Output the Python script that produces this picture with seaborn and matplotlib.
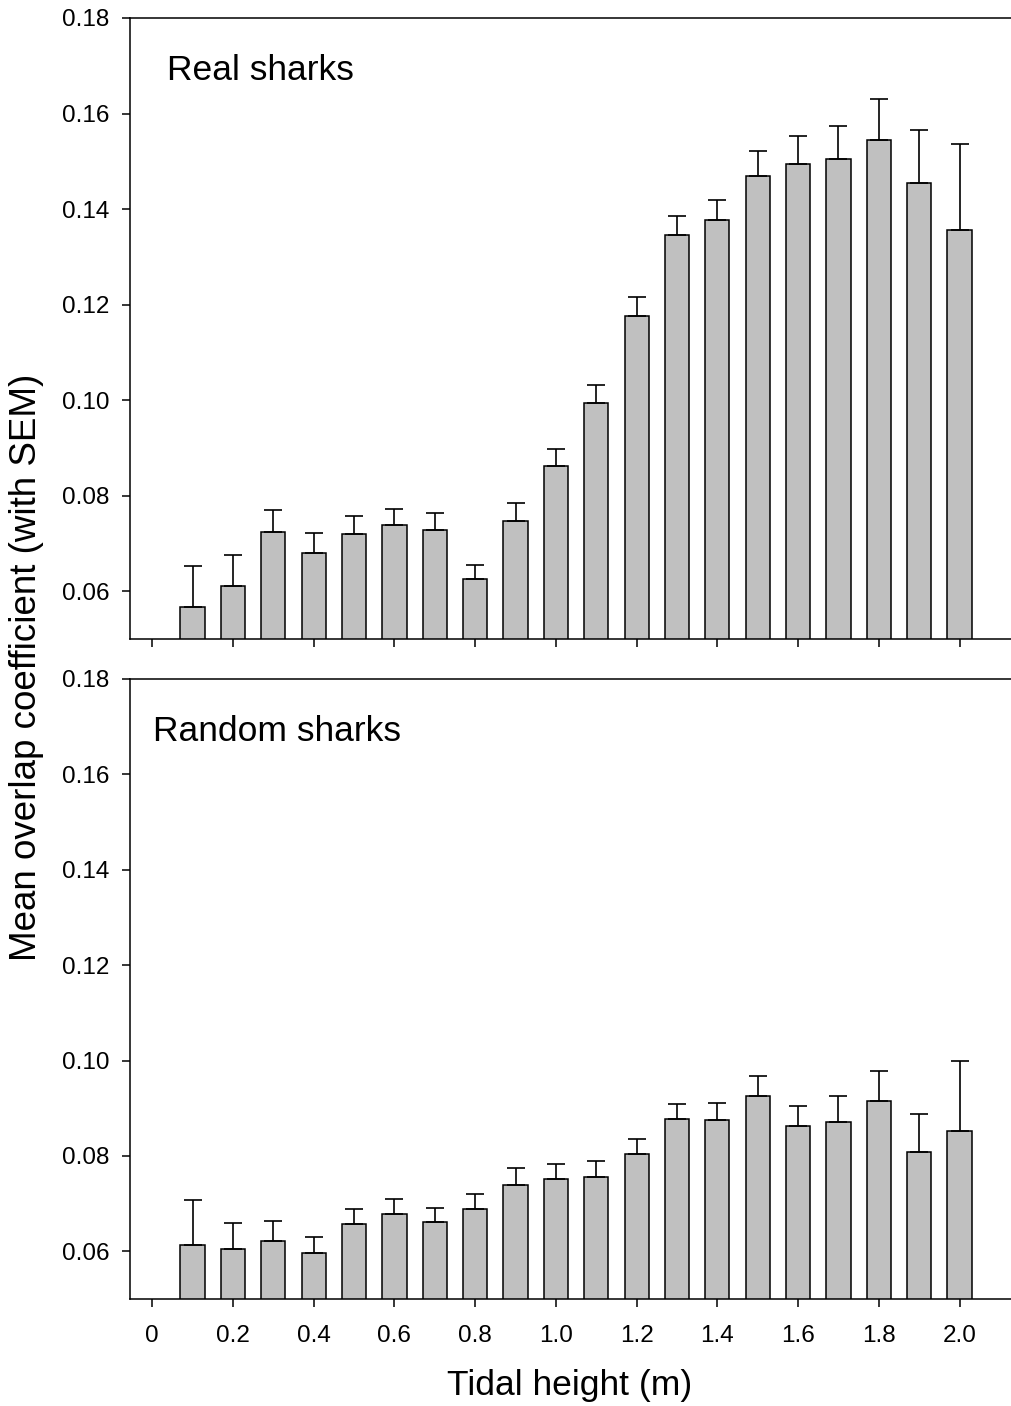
import numpy as np
import pandas as pd
import seaborn as sns
import matplotlib.pyplot as plt

# tidal height classes (m)
tide = [0.1, 0.2, 0.3, 0.4, 0.5, 0.6, 0.7, 0.8, 0.9, 1.0,
        1.1, 1.2, 1.3, 1.4, 1.5, 1.6, 1.7, 1.8, 1.9, 2.0]

# real sharks: mean overlap and upper SEM end
real_mean = [0.0566, 0.0611, 0.0723, 0.0681, 0.0720, 0.0738, 0.0728, 0.0626, 0.0747, 0.0862,
             0.0995, 0.1176, 0.1345, 0.1378, 0.1469, 0.1495, 0.1505, 0.1544, 0.1454, 0.1356]
real_top = [0.0653, 0.0676, 0.0770, 0.0721, 0.0757, 0.0773, 0.0764, 0.0656, 0.0784, 0.0898,
            0.1031, 0.1215, 0.1386, 0.1420, 0.1521, 0.1554, 0.1573, 0.1630, 0.1566, 0.1537]

# random sharks
rand_mean = [0.0614, 0.0605, 0.0621, 0.0596, 0.0657, 0.0678, 0.0661, 0.0688, 0.0740, 0.0752,
             0.0755, 0.0803, 0.0877, 0.0875, 0.0925, 0.0863, 0.0872, 0.0915, 0.0809, 0.0853]
rand_top = [0.0707, 0.0660, 0.0664, 0.0631, 0.0689, 0.0709, 0.0691, 0.0720, 0.0775, 0.0784,
            0.0789, 0.0836, 0.0908, 0.0910, 0.0967, 0.0905, 0.0925, 0.0977, 0.0887, 0.0998]

panel_names = ['Real sharks', 'Random sharks']
xticks = [0, 0.2, 0.4, 0.6, 0.8, 1.0, 1.2, 1.4, 1.6, 1.8, 2.0]
xtick_labels = ['0', '0.2', '0.4', '0.6', '0.8', '1.0', '1.2', '1.4', '1.6', '1.8', '2.0']
yticks = [0.06, 0.08, 0.10, 0.12, 0.14, 0.16, 0.18]

sns.set_style('ticks')
plt.rcParams['font.family'] = ['Liberation Sans', 'DejaVu Sans']
plt.rcParams['text.color'] = 'black'
plt.rcParams['xtick.color'] = 'black'
plt.rcParams['ytick.color'] = 'black'
plt.rcParams['xtick.labelcolor'] = 'black'
plt.rcParams['ytick.labelcolor'] = 'black'

fig = plt.figure(figsize=(10.12, 14.06), dpi=100)
ax_top = fig.add_axes([0.1285, 0.5455, 0.8715, 0.4417])
ax_bot = fig.add_axes([0.1285, 0.0761, 0.8715, 0.4410])

paneis = [(ax_top, real_mean, real_top, panel_names[0], 0.042),
          (ax_bot, rand_mean, rand_top, panel_names[1], 0.026)]

for ax, media, topo, nome, tx in paneis:
    df = pd.DataFrame({'tide': tide, 'mean': media, 'top': topo})
    sns.barplot(data=df, x='tide', y='mean', native_scale=True, width=0.6,
                color='#c0c0c0', saturation=1, edgecolor='black', linewidth=1.1,
                errorbar=None, ax=ax)
    err = df['top'] - df['mean']
    ax.errorbar(df['tide'], df['mean'], yerr=[np.zeros(len(err)), err],
                fmt='none', ecolor='black', elinewidth=1.2, capsize=6.5, capthick=1.2)

    ax.set_xlim(-0.055, 2.13)
    ax.set_ylim(0.05, 0.18)
    ax.set_xticks(xticks)
    ax.set_yticks(yticks)
    ax.set_yticklabels([f'{v:.2f}' for v in yticks], fontsize=17.5)
    ax.set_xlabel('')
    ax.set_ylabel('')
    ax.spines['right'].set_visible(False)
    for s in ['left', 'top', 'bottom']:
        ax.spines[s].set_linewidth(1.1)
        ax.spines[s].set_color('black')
    ax.tick_params(axis='both', direction='out', length=6, width=1.1, color='black')
    ax.tick_params(axis='y', pad=9)
    ax.tick_params(axis='x', pad=13)
    ax.text(tx, 0.916, nome, transform=ax.transAxes, fontsize=25.5,
            ha='left', va='center', color='black')

ax_top.set_xticklabels([])
ax_bot.set_xticklabels(xtick_labels, fontsize=17.5)

fig.text(570 / 1012, 1 - 1385 / 1406, 'Tidal height (m)', fontsize=25.5,
         ha='center', va='center', color='black')
fig.text(27 / 1012, 1 - 667 / 1406, 'Mean overlap coefficient (with SEM)',
         fontsize=26.5, rotation=90, ha='center', va='center', color='black')

fig.savefig('out.png', dpi=100)
